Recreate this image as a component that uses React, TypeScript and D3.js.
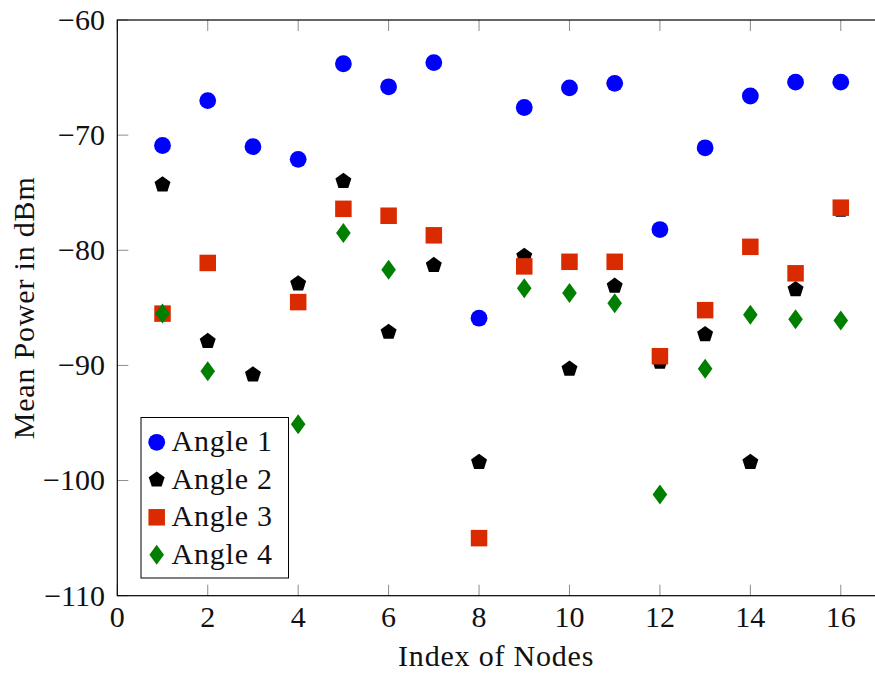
import React from "react";
import * as d3 from "d3";

const nodes = [1, 2, 3, 4, 5, 6, 7, 8, 9, 10, 11, 12, 13, 14, 15, 16];
const angle1 = [-70.9, -67.0, -71.0, -72.1, -63.8, -65.8, -63.7, -85.9, -67.6, -65.9, -65.5, -78.2, -71.1, -66.6, -65.4, -65.4];
const angle2 = [-74.3, -87.9, -90.8, -82.9, -74.0, -87.1, -81.3, -98.4, -80.5, -90.3, -83.1, -89.7, -87.3, -98.4, -83.4, -76.5];
const angle3 = [-85.5, -81.1, null, -84.5, -76.4, -77.0, -78.7, -105.0, -81.4, -81.0, -81.0, -89.2, -85.2, -79.7, -82.0, -76.3];
const angle4 = [-85.5, -90.5, null, -95.1, -78.5, -81.7, null, null, -83.3, -83.7, -84.6, -101.2, -90.3, -85.6, -86.0, -86.1];

const seriesNames = ["Angle 1", "Angle 2", "Angle 3", "Angle 4"];
const xTicks = [0, 2, 4, 6, 8, 10, 12, 14, 16];
const yTicks = [-60, -70, -80, -90, -100, -110];

const W = 875;
const H = 673;
const margin = { left: 117.3, top: 20, right: 886, bottom: 595.7 };
const FONT = "'Liberation Serif', 'Times New Roman', serif";
const FS = 30;
const LS = 0.8;

// marker paths, centered at 0,0
const circlePath = (r: number) => d3.symbol(d3.symbolCircle, Math.PI * r * r)() as string;
const squarePath = (s: number) => d3.symbol(d3.symbolSquare, s * s)() as string;
const pentagonPath = (r: number) => {
  const pts = d3.range(5).map((i) => {
    const a = -Math.PI / 2 + (i * 2 * Math.PI) / 5;
    return [r * Math.cos(a), r * Math.sin(a)] as [number, number];
  });
  return d3.line()(pts) + "Z";
};
const diamondPath = (w: number, h: number) =>
  d3.line()([
    [0, -h / 2],
    [w / 2, 0],
    [0, h / 2],
    [-w / 2, 0],
  ] as [number, number][]) + "Z";

const markers = [
  { path: circlePath(8.4), color: "#0000ff" },
  { path: pentagonPath(8.4), color: "#000000" },
  { path: squarePath(16.5), color: "#da2a00" },
  { path: diamondPath(14.6, 20), color: "#007f00" },
];

export default function App() {
  const x = d3.scaleLinear().domain([0, 17]).range([margin.left, margin.right]);
  const y = d3.scaleLinear().domain([-110, -60]).range([margin.bottom, margin.top]);
  const series = [angle1, angle2, angle3, angle4];
  const tickLen = 11;
  const tickColor = "#8c8c8c";

  return (
    <svg
      width={W}
      height={H}
      style={{ position: "absolute", left: 0, top: 0, background: "#fff" }}
      fontFamily={FONT}
    >
      <rect x={0} y={0} width={W} height={H} fill="#fff" />
      {/* ticks */}
      {xTicks.map((t) => (
        <g key={"xt" + t}>
          <line x1={x(t)} x2={x(t)} y1={margin.bottom} y2={margin.bottom - tickLen} stroke={tickColor} />
          <line x1={x(t)} x2={x(t)} y1={margin.top} y2={margin.top + tickLen} stroke={tickColor} />
          <text x={x(t)} y={627} textAnchor="middle" fontSize={FS} fill="#111">
            {t}
          </text>
        </g>
      ))}
      {yTicks.map((t) => (
        <g key={"yt" + t}>
          <line x1={margin.left} x2={margin.left + tickLen} y1={y(t)} y2={y(t)} stroke={tickColor} />
          <line x1={margin.right} x2={margin.right - tickLen} y1={y(t)} y2={y(t)} stroke={tickColor} />
          <text x={105} y={y(t)} dy="0.33em" textAnchor="end" fontSize={FS} fill="#111">
            {t < 0 ? "\u2212" + Math.abs(t) : t}
          </text>
        </g>
      ))}
      {/* frame */}
      <rect
        x={margin.left}
        y={margin.top}
        width={margin.right - margin.left}
        height={margin.bottom - margin.top}
        fill="none"
        stroke="#000"
        strokeWidth={1.2}
      />
      {/* points */}
      {series.map((vals, si) => (
        <g key={"s" + si} fill={markers[si].color}>
          {vals.map((v, i) =>
            v === null ? null : (
              <path key={i} d={markers[si].path} transform={`translate(${x(nodes[i])},${y(v)})`} />
            )
          )}
        </g>
      ))}
      {/* legend */}
      <g>
        <rect x={141} y={417.5} width={147.5} height={160.5} fill="#fff" stroke="#000" strokeWidth={1} />
        {seriesNames.map((name, i) => {
          const cy = 442.3 + i * 37.5;
          return (
            <g key={name}>
              <path d={markers[i].path} fill={markers[i].color} transform={`translate(156.7,${cy})`} />
              <text x={171.5} y={cy + 9} fontSize={FS} letterSpacing={LS} fill="#111">
                {name}
              </text>
            </g>
          );
        })}
      </g>
      {/* axis labels */}
      <text x={(margin.left + 875) / 2} y={666} textAnchor="middle" fontSize={FS} letterSpacing={LS} fill="#111">
        Index of Nodes
      </text>
      <text
        transform={`translate(34,${(margin.top + margin.bottom) / 2}) rotate(-90)`}
        textAnchor="middle"
        fontSize={FS}
        letterSpacing={LS}
        fill="#111"
      >
        Mean Power in dBm
      </text>
    </svg>
  );
}
